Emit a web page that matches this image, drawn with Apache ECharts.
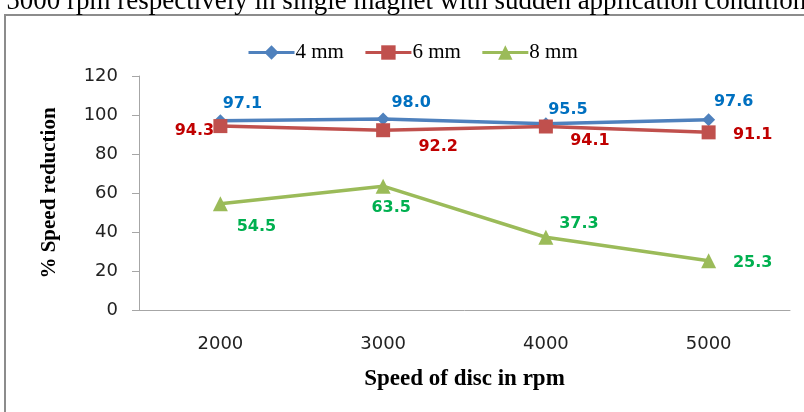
<!DOCTYPE html>
<html>
<head>
<meta charset="utf-8">
<style>
  html, body { margin: 0; padding: 0; background: #fff; }
  #chart { width: 804px; height: 412px; }
</style>
<script src="https://cdn.jsdelivr.net/npm/echarts@6/dist/echarts.min.js"></script>
</head>
<body>
<div id="chart"></div>
<script>
// Disc speeds (rpm) on the category axis
const speeds = ['2000', '3000', '4000', '5000'];

// % speed reduction for each magnet air gap
const gap4mm = [97.1, 98.0, 95.5, 97.6];
const gap6mm = [94.3, 92.2, 94.1, 91.1];
const gap8mm = [54.5, 63.5, 37.3, 25.3];

const seriesNames = ['4 mm', '6 mm', '8 mm'];
const yTicks = { min: 0, max: 120, step: 20 };

// Where each value label sits relative to its marker (pixels)
const offsets4 = [[22, -17], [28, -16], [22, -14], [25, -18]];
const offsets6 = [[-26, 5], [55, 17], [44, 14], [44, 2]];
const offsets8 = [[36, 23], [8, 22], [33, -13], [44, 2]];

const labelFont = { fontFamily: 'DejaVu Sans', fontWeight: 'bold', fontSize: 16 };

function points(values, offsets, color) {
  return values.map((v, i) => ({
    value: v,
    label: {
      show: true,
      position: 'inside',
      offset: offsets[i],
      formatter: v.toFixed(1),
      color: color,
      ...labelFont
    }
  }));
}

const chart = echarts.init(document.getElementById('chart'), null, { renderer: 'canvas' });

chart.setOption({
  animation: false,
  backgroundColor: '#ffffff',
  graphic: [
    {
      type: 'text',
      left: -14,
      top: -12,
      style: {
        text: 'd 5000 rpm respectively in single magnet with sudden application conditions',
        font: '27px "Liberation Serif"',
        fill: '#000'
      },
      z: 10
    },
    {
      type: 'rect',
      shape: { x: 5, y: 15, width: 900, height: 500 },
      style: { fill: 'none', stroke: '#8c8c8c', lineWidth: 2 },
      silent: true
    }
  ],
  legend: {
    left: 242,
    top: 37,
    itemWidth: 46,
    itemHeight: 18,
    itemGap: 20,
    lineStyle: { width: 3 },
    textStyle: { fontFamily: 'Liberation Serif', fontSize: 21, color: '#000', padding: [0, 0, 0, -4] },
    data: seriesNames
  },
  grid: { left: 139, right: 14, top: 76, bottom: 102 },
  xAxis: {
    type: 'category',
    data: speeds,
    boundaryGap: true,
    name: 'Speed of disc in rpm',
    nameLocation: 'middle',
    nameGap: 58,
    nameTextStyle: { fontFamily: 'Liberation Serif', fontWeight: 'bold', fontSize: 23, color: '#000' },
    axisLine: { lineStyle: { color: '#a6a6a6', width: 1 } },
    axisTick: { show: false },
    axisLabel: { margin: 25, fontFamily: 'DejaVu Sans', fontSize: 18, color: '#222' }
  },
  yAxis: {
    type: 'value',
    min: yTicks.min,
    max: yTicks.max,
    interval: yTicks.step,
    name: '% Speed reduction',
    nameLocation: 'middle',
    nameGap: 79,
    nameTextStyle: { fontFamily: 'Liberation Serif', fontWeight: 'bold', fontSize: 21, color: '#000' },
    axisLine: { show: true, lineStyle: { color: '#a6a6a6', width: 1 } },
    axisTick: { show: true, length: 7, lineStyle: { color: '#a6a6a6' } },
    splitLine: { show: false },
    axisLabel: { margin: 21, fontFamily: 'DejaVu Sans', fontSize: 18, color: '#222' }
  },
  series: [
    {
      name: seriesNames[0],
      type: 'line',
      data: points(gap4mm, offsets4, '#0070C0'),
      color: '#4F81BD',
      symbol: 'diamond',
      symbolSize: 13,
      lineStyle: { width: 3.5, color: '#4F81BD' },
      itemStyle: { color: '#4F81BD' },
      z: 3
    },
    {
      name: seriesNames[1],
      type: 'line',
      data: points(gap6mm, offsets6, '#C00000'),
      color: '#C0504D',
      symbol: 'rect',
      symbolSize: 14,
      lineStyle: { width: 3.5, color: '#C0504D' },
      itemStyle: { color: '#C0504D' },
      z: 4
    },
    {
      name: seriesNames[2],
      type: 'line',
      data: points(gap8mm, offsets8, '#00B050'),
      color: '#9BBB59',
      symbol: 'triangle',
      symbolSize: 15,
      lineStyle: { width: 3.5, color: '#9BBB59' },
      itemStyle: { color: '#9BBB59' },
      z: 2
    }
  ]
});
</script>
</body>
</html>
